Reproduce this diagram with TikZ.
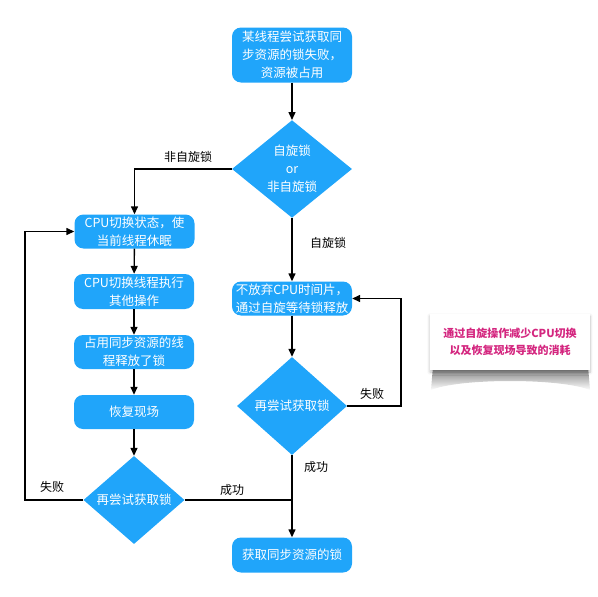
\documentclass[tikz,border=0pt]{standalone}
\usepackage{fontspec}
\setmainfont{Noto Sans CJK SC}
\usetikzlibrary{shapes.geometric,arrows.meta,shadows,shadows.blur}
\definecolor{boxblue}{RGB}{32,165,250}
\definecolor{notepink}{RGB}{212,38,127}
\tikzset{
  proc/.style={rectangle, rounded corners=9pt, fill=boxblue, text=white, align=center,
    minimum width=120pt, inner sep=1pt, font=\fontsize{12.5}{18}\selectfont},
  dec/.style={diamond, fill=boxblue, text=white, align=center, inner sep=0pt,
    font=\fontsize{12.5}{18}\selectfont},
  conn/.style={line width=1.4pt, -{Triangle[length=8pt,width=7pt]}},
  plain/.style={line width=1.4pt},
  lbl/.style={font=\fontsize{12}{14}\selectfont, text=black},
}
\begin{document}
\begin{tikzpicture}[x=1pt,y=-1pt]
\useasboundingbox (0,0) rectangle (598,597);
% nodes
\node[proc, minimum height=55pt] (start) at (292,55) {某线程尝试获取同\\步资源的锁失败，\\资源被占用};
\node[dec, minimum width=120pt, minimum height=96pt] (d1) at (292,169) {自旋锁\\or\\非自旋锁};
\node[proc, minimum height=34pt] (b1) at (134.5,231.5) {CPU切换状态，使\\当前线程休眠};
\node[proc, minimum height=35pt] (b2) at (134,291.5) {CPU切换线程执行\\其他操作};
\node[proc, minimum height=34pt] (b3) at (134,352) {占用同步资源的线\\程释放了锁};
\node[proc, minimum height=34pt] (b4) at (134,412) {恢复现场};
\node[dec, minimum width=101pt, minimum height=88pt] (d2) at (134,500) {再尝试获取锁};
\node[proc, minimum height=34pt] (s1) at (292,298.5) {不放弃CPU时间片，\\通过自旋等待锁释放};
\node[dec, minimum width=110pt, minimum height=98pt] (d3) at (292,406) {再尝试获取锁};
\node[proc, minimum height=35pt] (final) at (292,555) {获取同步资源的锁};
% note shadow (curled)
\shade[top color=black!55, bottom color=white]
  (433,366) -- (588,366) -- (590,390) .. controls (560,378) and (460,378) .. (431,390) -- cycle;
% note
\node[rectangle, fill=white, minimum width=160pt, minimum height=56pt, align=center,
  text=notepink, font=\bfseries\fontsize{11}{17}\selectfont,
  blur shadow={shadow xshift=0pt, shadow yshift=-2pt, shadow blur steps=6, shadow blur radius=3pt, shadow opacity=25}]
  (note) at (510,342) {通过自旋操作减少CPU切换\\以及恢复现场导致的消耗};
% coordinates
\coordinate (c1) at (134.5,169);
\coordinate (c2) at (25,500);
\coordinate (c3) at (25,231.5);
\coordinate (c4) at (401,406);
\coordinate (c5) at (401,298.5);
\coordinate (j) at (292,500);
% connectors
\draw[conn] (start) -- (d1);
\draw[conn] (d1.west) -- (c1) -- (b1);
\draw[conn] (b1) -- (b2);
\draw[conn] (b2) -- (b3);
\draw[conn] (b3) -- (b4);
\draw[conn] (b4) -- (d2);
\draw[conn] (d2.west) -- (c2) -- (c3) -- (b1.west);
\draw[plain] (d2.east) -- (j);
\draw[conn] (d1) -- (s1);
\draw[conn] (s1) -- (d3);
\draw[conn] (d3.east) -- (c4) -- (c5) -- (s1.east);
\draw[conn] (d3) -- (final);
% labels
\node[lbl] (l1) at (188,157) {非自旋锁};
\node[lbl] (l2) at (328,243) {自旋锁};
\node[lbl] (l3) at (372,394) {失败};
\node[lbl] (l4) at (316,467) {成功};
\node[lbl] (l5) at (52,487) {失败};
\node[lbl] (l6) at (232,490) {成功};
\end{tikzpicture}
\end{document}
